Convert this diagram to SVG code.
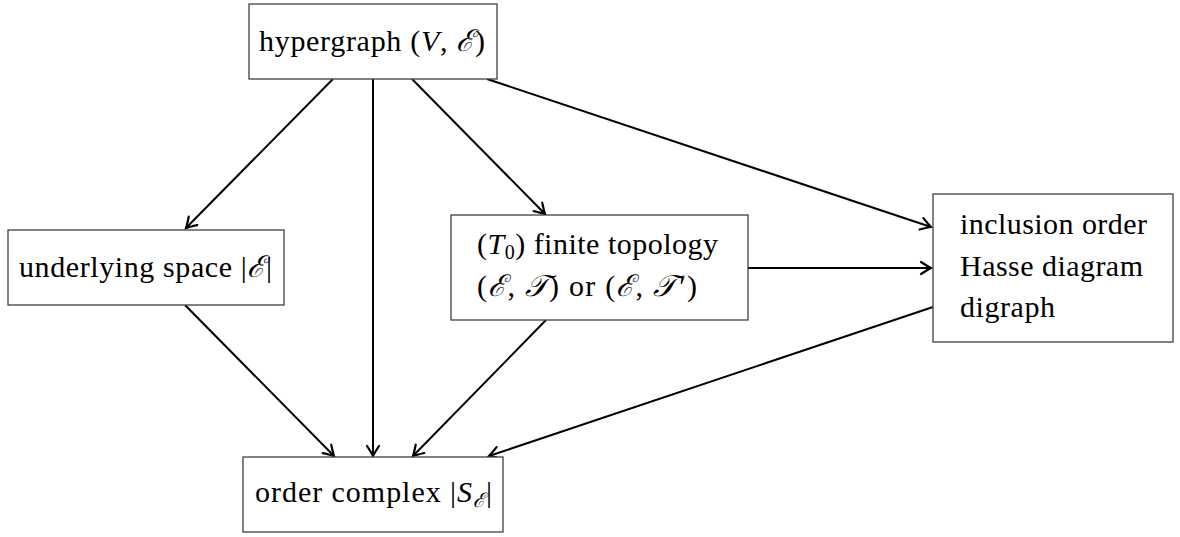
<svg xmlns="http://www.w3.org/2000/svg" width="1180" height="537" viewBox="0 0 1180 537">
<style>
  .box { fill: #ffffff; stroke: #404040; stroke-width: 1.3; }
  .lbl { font-family: "Liberation Serif", "DejaVu Serif", serif; font-size: 30px; fill: #000; }
  .mi { font-style: italic; }
  .edge { fill: none; stroke: #000; stroke-width: 2; marker-end: url(#arr); }
</style>
<defs>
  <marker id="arr" markerUnits="userSpaceOnUse" markerWidth="16" markerHeight="16" viewBox="-12 -8 14 16" refX="0" refY="0" orient="auto">
    <path d="M -10 -6 Q -3 -1.5 0 0 Q -3 1.5 -10 6" fill="none" stroke="#000" stroke-width="2.2" stroke-linecap="round"/>
  </marker>
</defs>
<rect width="1180" height="537" fill="#ffffff"/>
<g id="connectors">
  <line class="edge" x1="333" y1="79" x2="186" y2="228"/>
  <line class="edge" x1="373" y1="79" x2="373" y2="456"/>
  <line class="edge" x1="412" y1="79" x2="545" y2="214"/>
  <line class="edge" x1="487" y1="79" x2="931" y2="227"/>
  <line class="edge" x1="748" y1="268" x2="931" y2="268"/>
  <line class="edge" x1="185" y1="305" x2="334" y2="456"/>
  <line class="edge" x1="546" y1="320" x2="413" y2="456"/>
  <line class="edge" x1="933" y1="307" x2="489" y2="456"/>
</g>
<g id="hypergraph">
  <rect class="box" x="249" y="4" width="248" height="75"/>
  <text class="lbl" x="259" y="51" textLength="226" lengthAdjust="spacing">hypergraph (<tspan class="mi">V</tspan>, <tspan class="mi">ℰ</tspan>)</text>
</g>
<g id="underlying">
  <rect class="box" x="8" y="230" width="276" height="75"/>
  <text class="lbl" x="19" y="277" textLength="253" lengthAdjust="spacing">underlying space |<tspan class="mi">ℰ</tspan>|</text>
</g>
<g id="topology">
  <rect class="box" x="451" y="215" width="297" height="105"/>
  <text class="lbl" x="477" y="254" textLength="241" lengthAdjust="spacing">(<tspan class="mi">T</tspan><tspan font-size="20" dy="5">0</tspan><tspan dy="-5">) finite topology</tspan></text>
  <text class="lbl" x="477" y="296" textLength="220" lengthAdjust="spacing">(<tspan class="mi">ℰ</tspan>, <tspan class="mi">𝒯</tspan>) or (<tspan class="mi">ℰ</tspan>, <tspan class="mi">𝒯</tspan><tspan dx="2">′</tspan>)</text>
</g>
<g id="inclusion">
  <rect class="box" x="933" y="194" width="240" height="148"/>
  <text class="lbl" x="960" y="234" textLength="187" lengthAdjust="spacing">inclusion order</text>
  <text class="lbl" x="960" y="276" textLength="183" lengthAdjust="spacing">Hasse diagram</text>
  <text class="lbl" x="960" y="317" textLength="95" lengthAdjust="spacing">digraph</text>
</g>
<g id="ordercomplex">
  <rect class="box" x="243" y="457" width="260" height="75"/>
  <text class="lbl" x="255" y="502" textLength="237" lengthAdjust="spacing">order complex |<tspan class="mi">S</tspan><tspan class="mi" font-size="20" dy="5">ℰ</tspan><tspan dy="-5">|</tspan></text>
</g>
</svg>
